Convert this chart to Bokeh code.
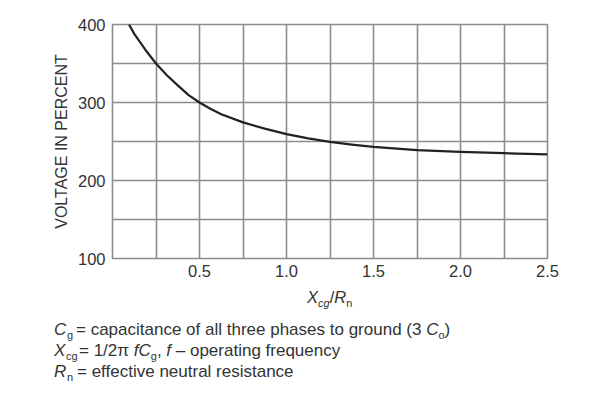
from bokeh.plotting import figure
from bokeh.layouts import column
from bokeh.models import FixedTicker, PrintfTickFormatter, Div
from bokeh.embed import file_html
from bokeh.resources import INLINE

# ---- data ----
x_ratio = [0.095, 0.125, 0.1875, 0.25, 0.3125, 0.375, 0.4375, 0.5, 0.5625, 0.625, 0.75, 0.875,
           1.0, 1.125, 1.25, 1.375, 1.5, 1.75, 2.0, 2.25, 2.5]
voltage_pct = [400, 388, 368, 350, 335, 322, 309.5, 300, 292, 285, 274.5, 266.5,
               259.5, 254, 249.5, 246, 243, 239, 236.7, 235, 233.5]

x_tick_values = [0.5, 1.0, 1.5, 2.0, 2.5]
x_grid_values = [0.25, 0.5, 0.75, 1.0, 1.25, 1.5, 1.75, 2.0, 2.25]
y_tick_values = [100, 200, 300, 400]
y_grid_values = [150, 200, 250, 300, 350]
y_axis_title = "VOLTAGE IN PERCENT"

FONT = "Liberation Sans"
TXT = "#333333"
GRID = "#8c8c8c"

W = 594
MAIN_H = 286
NOTE_H = 382 - MAIN_H

p = figure(width=W, height=MAIN_H, x_range=(0, 2.5), y_range=(100, 400),
           output_backend="svg", toolbar_location=None,
           min_border_left=112, min_border_right=47, min_border_top=24, min_border_bottom=28)
p.background_fill_color = "white"
p.border_fill_color = "white"
p.outline_line_color = GRID
p.outline_line_width = 1.6

p.xgrid.ticker = FixedTicker(ticks=x_grid_values)
p.ygrid.ticker = FixedTicker(ticks=y_grid_values)
for g in (p.xgrid, p.ygrid):
    g.grid_line_color = GRID
    g.grid_line_width = 1.6
    g.grid_line_alpha = 1.0

p.xaxis.ticker = FixedTicker(ticks=x_tick_values)
p.xaxis.formatter = PrintfTickFormatter(format="%.1f")
p.yaxis.ticker = FixedTicker(ticks=y_tick_values)
p.yaxis.axis_label = y_axis_title
for ax in (p.xaxis, p.yaxis):
    ax.axis_line_color = None
    ax.major_tick_line_color = None
    ax.minor_tick_line_color = None
    ax.major_tick_out = 0
    ax.major_tick_in = 0
    ax.minor_tick_out = 0
    ax.major_label_text_font = FONT
    ax.major_label_text_font_size = "16.5px"
    ax.major_label_text_color = TXT
    ax.axis_label_text_font = FONT
    ax.axis_label_text_font_size = "16px"
    ax.axis_label_text_font_style = "normal"
    ax.axis_label_text_color = TXT
p.xaxis.major_label_standoff = 6
p.yaxis.major_label_standoff = 7
p.yaxis.axis_label_standoff = 5

p.line(x_ratio, voltage_pct, line_color="#222222", line_width=2.2, line_join="round")

# ---- x-axis title and notes (HTML text below the chart) ----
def line(left, baseline, html, size=17):
    top = baseline - 0.86 * size
    return (f'<div style="position:absolute;left:{left}px;top:{top:.1f}px;'
            f'font-size:{size}px;line-height:{size}px;white-space:nowrap;">{html}</div>')

def sub(t, italic=False):
    st = "font-style:italic;" if italic else ""
    return f'<span style="font-size:11px;position:relative;top:4px;{st}">{t}</span>'

def it(t):
    return f'<i>{t}</i>'

parts = []
parts.append(line(307, 303 - MAIN_H, it("X") + sub("cg", True) + "/" + it("R") + sub("n"), 16.5))
parts.append(line(54, 336 - MAIN_H, it("C")))
parts.append(line(67, 336 - MAIN_H, sub("g")))
parts.append(line(76, 336 - MAIN_H, "= capacitance of all three phases to ground (3&nbsp;" + it("C") + sub("o") + ")"))
parts.append(line(54, 357 - MAIN_H, it("X")))
parts.append(line(66, 357 - MAIN_H, sub("cg")))
parts.append(line(79, 357 - MAIN_H, "= 1/2\u03c0 " + it("fC") + sub("g") + ", " + it("f") + " \u2013 operating frequency"))
parts.append(line(54, 378 - MAIN_H, it("R")))
parts.append(line(67, 378 - MAIN_H, sub("n")))
parts.append(line(77, 378 - MAIN_H, "= effective neutral resistance"))

html = (f'<div style="position:relative;width:{W}px;height:{NOTE_H}px;'
        f"font-family:'{FONT}';color:{TXT};background:white;\">" + "".join(parts) + "</div>")
notes = Div(text=html, width=W, height=NOTE_H, margin=0)

open("out.html", "w").write(file_html(column(p, notes, spacing=0), INLINE))
